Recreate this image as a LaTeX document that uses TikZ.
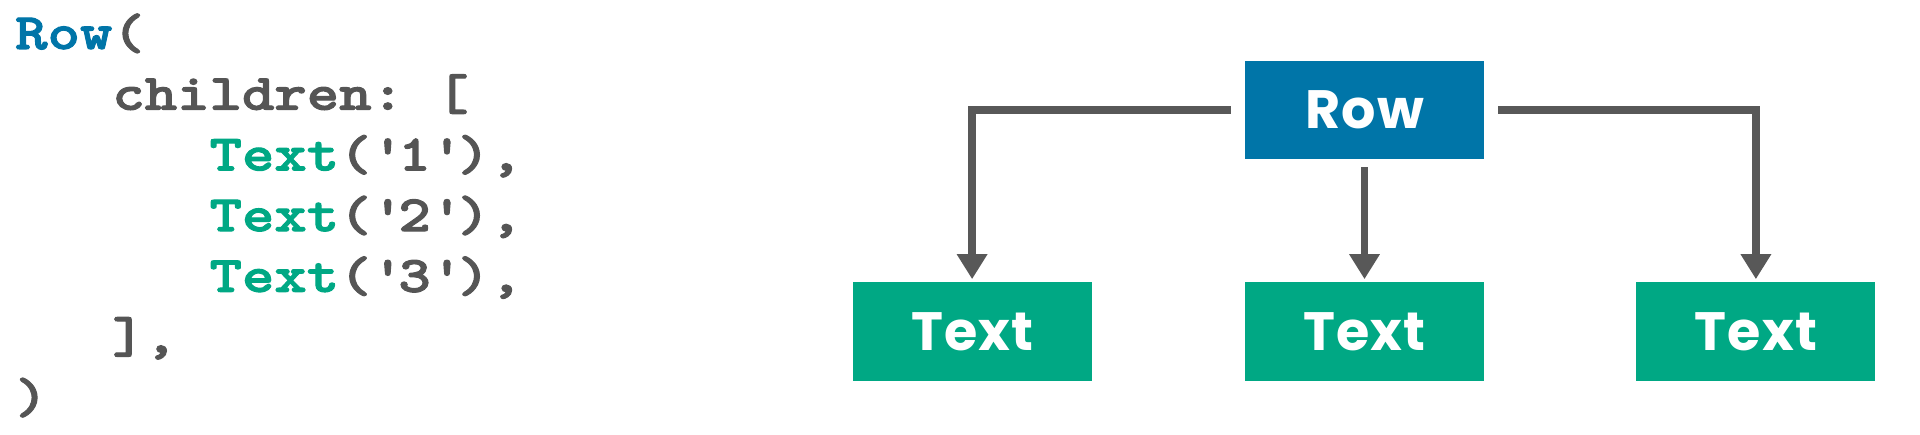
\documentclass[tikz,border=0pt]{standalone}
\usepackage{fontspec}
\newfontfamily\boxfont{Poppins}[LetterSpace=2]
\newfontfamily\codefont{lmmonolt10-bold.otf}[FakeStretch=1.21,FakeBold=2]
\usepackage{xcolor}
\usepackage{tikz}
\usetikzlibrary{arrows.meta}
\usetikzlibrary{positioning}
\definecolor{rowblue}{HTML}{0075A8}
\definecolor{txtgreen}{HTML}{00A884}
\definecolor{codegray}{HTML}{555555}
\definecolor{linegray}{HTML}{585858}
\newcommand\qt{\textquotesingle}
\tikzset{
  box_n/.style = {rectangle, inner sep=0pt, minimum width=239pt,
    minimum height=98pt, text=white,
    font=\boxfont\bfseries\fontsize{54}{60}\selectfont},
  row_n/.style = {box_n, fill=rowblue},% boite Row
  text_n/.style = {box_n, fill=txtgreen, minimum height=99pt},% boite Text
  code_l/.style = {anchor=base west, inner sep=0pt, text=codegray,
    font=\codefont\frenchspacing\fontsize{51}{60}\selectfont},% ligne de code
  lien/.style = {draw=linegray, line width=7.5pt,
    -{Triangle[width=29pt,length=25pt]}}% connecteur
}

\begin{document}
\begin{tikzpicture}[x=1pt,y=-1pt]
\useasboundingbox (0,0) rectangle (1920,435);
% code
\node [code_l] (c_row) at (15,49) {\textcolor{rowblue}{Row}(};
\node [code_l] (c_ch) at (112.2,109.7) {children: [};
\foreach \i in {1,2,3}
  \node [code_l] (c\i) at (209.4,{109.7+60.7*\i}) {\textcolor{txtgreen}{Text}(\qt\i\qt),};
\node [code_l] (c_br) at (112.2,352.5) {],};
\node [code_l] (c_end) at (15,413.2) {)};
% arbre
\node [row_n] (row) at (1364.5,110) {Row};
\node [text_n, below=123pt of row] (t2) {Text};
\node [text_n, left=153pt of t2] (t1) {Text};
\node [text_n, right=152pt of t2] (t3) {Text};
\draw [lien] ([xshift=-14pt]row.west) -| ([yshift=3pt]t1.north);
\draw [lien] ([yshift=-8pt]row.south) -- ([yshift=3pt]t2.north);
\draw [lien] ([xshift=14pt]row.east) -| ([yshift=3pt]t3.north);
\end{tikzpicture}
\end{document}
